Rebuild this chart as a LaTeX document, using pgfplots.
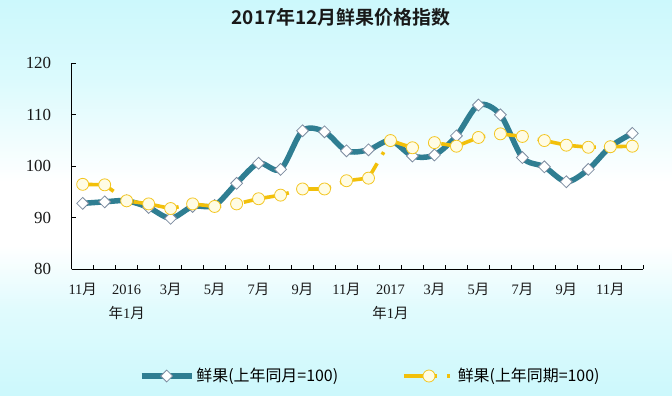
\documentclass[border=0pt]{standalone}
\usepackage{fontspec}
\setmainfont{Liberation Serif}
\newfontfamily\cjk{Noto Sans CJK SC}
\newfontfamily\cjkb{Noto Sans CJK SC Bold}
\usepackage{pgfplots}
\pgfplotsset{compat=1.18}
\definecolor{bgc}{RGB}{204,248,252}
\definecolor{tealc}{RGB}{47,126,146}
\definecolor{yelc}{RGB}{242,192,10}
\definecolor{dmd}{RGB}{125,140,160}
\definecolor{cfill}{RGB}{255,252,228}
\pgfdeclareverticalshading{bgshade}{100bp}{color(0bp)=(bgc); color(25bp)=(bgc); color(36bp)=(bgc!60!white); color(44bp)=(white); color(52bp)=(white); color(65bp)=(bgc!70!white); color(75bp)=(bgc); color(100bp)=(bgc)}

\pgfplotstableread{
x y
0 92.8
1 93.1
2 93.3
3 92.0
4 89.9
5 92.2
6 92.4
7 96.7
8 100.6
9 99.4
10 106.9
11 106.7
12 103.0
13 103.2
14 105.0
15 102.0
16 102.2
17 105.9
18 111.9
19 110.0
20 101.7
21 99.9
22 97.0
23 99.4
24 103.8
25 106.4
}\tyoy

\pgfplotstableread{
x y
0 96.5
1 96.4
2 93.3
3 92.7
4 91.8
5 92.7
6 92.2
7 92.7
8 93.7
9 94.4
10 95.6
11 95.6
12 97.2
13 97.7
14 105.0
15 103.6
16 104.6
17 103.9
18 105.6
19 106.3
20 105.8
21 105.0
22 104.1
23 103.7
24 103.8
25 103.9
}\tcum

\begin{document}
\begin{tikzpicture}
\shade[shading=bgshade] (0,0) rectangle (672bp,396bp);
\node[font={\cjkb\fontsize{19}{22}\selectfont}, text=black!90] at (341bp,379bp) {2017年12月鲜果价格指数};
\begin{axis}[
  at={(71.7bp,126.7bp)}, anchor=south west,
  width=571.6bp, height=206bp, scale only axis,
  xmin=-0.5, xmax=25.5, ymin=80, ymax=120,
  axis x line=bottom, axis y line=left,
  axis line style={-, black, line width=0.8bp},
  tick align=inside,
  major tick length=4bp,
  tick style={black, line width=0.7bp},
  ytick={80,90,...,120},
  xtick={-0.5,0.5,...,25.5},
  xticklabels={},
  extra x ticks={0,2,...,24},
  extra x tick style={tick style={draw=none}},
  extra x tick labels={{11{\cjk 月}},{\vphantom{\cjk 月}2016\\{\cjk 年}1{\cjk 月}},{3{\cjk 月}},{5{\cjk 月}},{7{\cjk 月}},{9{\cjk 月}},{11{\cjk 月}},{\vphantom{\cjk 月}2017\\{\cjk 年}1{\cjk 月}},{3{\cjk 月}},{5{\cjk 月}},{7{\cjk 月}},{9{\cjk 月}},{11{\cjk 月}}},
  xticklabel style={align=center, font={\fontsize{14.5}{24}\selectfont}, yshift=-10bp, text=black!90},
  yticklabel style={font={\fontsize{17}{19}\selectfont}, xshift=-17bp, text=black!90},
  /pgf/number format/assume math mode=true,
  legend style={at={(axis description cs:0.1172,-0.518)}, anchor=west, draw=none, fill=none, inner sep=0pt,
    font={\cjk\fontsize{16}{19}\selectfont}, legend columns=2,
    /tikz/every even column/.append style={column sep=62bp}},
  legend image code/.code={\draw[mark repeat=2,mark phase=2,#1] plot coordinates {(0bp,0bp) (25bp,0bp) (50bp,0bp)};},
]
\addplot[tealc, line width=5.5bp, smooth, tension=0.5,
  mark=square*, mark size=4.2bp,
  mark options={rotate=45, fill=white, draw=dmd, line width=0.8bp, solid}]
  table[x=x,y=y] {\tyoy};
\addlegendentry{鲜果(上年同月=100)}
\addplot[yelc, line width=3.6bp, dash pattern=on 33bp off 10bp on 3bp off 10bp,
  mark=*, mark size=6bp,
  mark options={fill=cfill, draw=yelc!90!white, line width=0.8bp, solid}]
  table[x=x,y=y] {\tcum};
\addlegendentry{鲜果(上年同期=100)}
\end{axis}
\end{tikzpicture}
\end{document}
